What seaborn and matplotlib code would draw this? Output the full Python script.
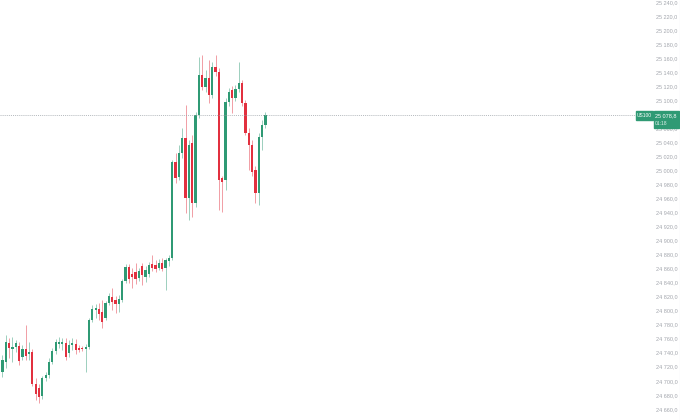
import numpy as np
import pandas as pd
import seaborn as sns
import matplotlib.pyplot as plt
from matplotlib.patches import Rectangle
from matplotlib.ticker import FixedLocator, FuncFormatter

# --------------------------------------------------------------------------------------------
# Candle data (US100)
# --------------------------------------------------------------------------------------------
open_ = [24712.6, 24726.8, 24753.9, 24745.3, 24748.2, 24749.6, 24733.9, 24745.3, 24738.2, 24741.1,
         24695.5, 24689.8, 24678.4, 24704.0, 24708.3, 24726.8, 24742.5, 24752.5, 24752.5, 24753.9,
         24739.6, 24751.0, 24752.5, 24746.8, 24746.8, 24745.3, 24748.2, 24786.7, 24801.0, 24802.4,
         24798.1, 24789.6, 24811.0, 24819.5, 24815.2, 24809.5, 24815.2, 24842.3, 24862.2, 24852.3,
         24855.1, 24846.6, 24863.7, 24848.0, 24852.3, 24866.5, 24865.1, 24860.8, 24867.9, 24860.8,
         24870.8, 24875.0, 25011.9, 24990.5, 25024.7, 25046.1, 24960.6, 25039.0, 24953.4, 25078.9,
         25136.0, 25118.8, 25131.7, 25107.4, 25147.3, 25140.2, 24989.1, 24986.3, 25097.4, 25114.5,
         25103.1, 25116.0, 25124.5, 25096.0, 25053.3, 25036.1, 25000.5, 24967.7, 25047.6, 25064.7]
high = [24736.8, 24765.3, 24761.0, 24762.5, 24758.2, 24755.3, 24751.0, 24779.6, 24755.3, 24745.3,
        24704.0, 24695.5, 24706.9, 24712.6, 24732.5, 24746.8, 24759.6, 24762.5, 24761.0, 24761.0,
        24758.2, 24761.0, 24759.6, 24751.0, 24749.6, 24752.5, 24789.6, 24808.1, 24809.5, 24811.0,
        24815.2, 24813.8, 24825.2, 24832.3, 24820.9, 24822.3, 24845.1, 24866.5, 24866.5, 24860.8,
        24867.9, 24860.8, 24867.9, 24863.7, 24869.4, 24879.3, 24872.2, 24873.6, 24875.0, 24875.0,
        24879.3, 25014.8, 25024.7, 25036.1, 25060.4, 25093.1, 25043.3, 25050.4, 25083.2, 25161.6,
        25164.4, 25143.1, 25157.3, 25154.5, 25164.4, 25145.9, 24991.9, 25103.1, 25117.4, 25120.3,
        25121.7, 25154.5, 25128.8, 25100.3, 25060.4, 25043.3, 25006.2, 25053.3, 25071.8, 25083.2]
low = [24705.5, 24718.3, 24732.5, 24726.8, 24741.1, 24722.5, 24729.7, 24729.7, 24729.7, 24692.6,
       24672.7, 24668.4, 24674.1, 24699.8, 24704.0, 24723.9, 24738.2, 24746.8, 24743.9, 24729.7,
       24733.9, 24743.9, 24738.2, 24741.1, 24742.5, 24712.6, 24745.3, 24783.9, 24789.6, 24786.7,
       24775.3, 24786.7, 24808.1, 24801.0, 24796.7, 24798.1, 24812.4, 24839.4, 24839.4, 24832.3,
       24838.0, 24842.3, 24836.6, 24840.8, 24848.0, 24856.5, 24855.1, 24858.0, 24856.5, 24829.5,
       24863.7, 24872.2, 24982.0, 24986.3, 25017.6, 24939.2, 24929.2, 24933.5, 24947.7, 25074.6,
       25114.5, 25111.7, 25096.0, 25103.1, 25134.5, 24943.5, 24940.7, 24972.0, 25091.7, 25081.8,
       25098.9, 25111.7, 25091.7, 25050.4, 25000.5, 24991.9, 24953.4, 24950.6, 25029.0, 25060.4]
close = [24729.7, 24755.3, 24746.8, 24748.2, 24753.9, 24728.2, 24745.3, 24735.4, 24741.1, 24695.5,
         24681.2, 24676.9, 24704.0, 24708.3, 24726.8, 24742.5, 24755.3, 24755.3, 24755.3, 24733.9,
         24751.0, 24753.9, 24743.9, 24743.9, 24745.3, 24748.2, 24786.7, 24802.4, 24803.8, 24795.3,
         24783.9, 24811.0, 24820.9, 24812.4, 24809.5, 24816.7, 24842.3, 24862.2, 24845.1, 24848.0,
         24845.1, 24856.5, 24850.8, 24858.0, 24865.1, 24860.8, 24859.4, 24867.9, 24859.4, 24872.2,
         24875.0, 25011.9, 24989.1, 25024.7, 25046.1, 24960.6, 25036.1, 24953.4, 25078.9, 25136.0,
         25118.8, 25131.7, 25107.4, 25147.3, 25140.2, 24986.3, 24983.4, 25097.4, 25111.7, 25103.1,
         25116.0, 25124.5, 25096.0, 25053.3, 25036.1, 24997.6, 24967.7, 25047.6, 25064.7, 25078.8]

symbol = 'US100'
last_price_label = '25 078,8'
countdown = '01:18'
price_ticks = list(range(24640, 25241, 20))

df = pd.DataFrame({'open': open_, 'high': high, 'low': low, 'close': close})
df['idx'] = np.arange(len(df))
df['up'] = df['close'] >= df['open']

GREEN = '#2f9a74'
RED = '#e2303f'

# --------------------------------------------------------------------------------------------
# Plot
# --------------------------------------------------------------------------------------------
sns.set_theme(style='white')
plt.rcParams['font.family'] = ['Liberation Sans', 'DejaVu Sans']

fig = plt.figure(figsize=(6.8, 4.2), dpi=100)
ax = fig.add_axes([0, 0, 653 / 680, 1])

colors = np.where(df['up'], GREEN, RED)
ax.vlines(df['idx'], df['low'], df['high'], colors=colors, linewidth=0.6, alpha=0.55)
body_bottom = df[['open', 'close']].min(axis=1)
body_height = (df['close'] - df['open']).abs().clip(lower=0.8)
ax.bar(df['idx'], body_height, bottom=body_bottom, width=0.68, color=colors, linewidth=0)

ax.set_xlim(-0.72, (653 - 2.4) / 3.33)
ax.set_ylim(24644.1, 25242.85)

last = df['close'].iloc[-1]
ax.axhline(last, xmin=0, xmax=636 / 653, color='#9aa0a6', linestyle=(0, (1.5, 1.5)), linewidth=0.5)

ax.yaxis.tick_right()
ax.yaxis.set_major_locator(FixedLocator(price_ticks))
ax.yaxis.set_major_formatter(FuncFormatter(lambda v, p: f"{v:,.1f}".replace(',', ' ').replace('.', ',')))
ax.tick_params(axis='y', length=0, pad=2.2, labelsize=4.0, labelcolor='#a3a6ad')
ax.set_xticks([])
for s in ax.spines.values():
    s.set_visible(False)

# Price scale boxes
fig.patches.append(Rectangle((636 / 680, 1 - 119.5 / 420), 17 / 680, 8 / 420,
                             transform=fig.transFigure, color=GREEN, zorder=5))
fig.patches.append(Rectangle((654 / 680, 1 - 127.5 / 420), 24.5 / 680, 16.5 / 420,
                             transform=fig.transFigure, color=GREEN, zorder=5))
fig.text(644.5 / 680, 1 - 115.5 / 420, symbol, color='white', fontsize=3.5, ha='center', va='center', zorder=6)
fig.text(666.2 / 680, 1 - 115.3 / 420, last_price_label, color='white', fontsize=4.0, ha='center', va='center', zorder=6)
fig.text(661 / 680, 1 - 123.3 / 420, countdown, color='#dff0ea', fontsize=3.6, ha='center', va='center', zorder=6)

# right border line of the price scale
fig.add_artist(plt.Line2D([679.5 / 680, 679.5 / 680], [0, 1], transform=fig.transFigure, color='#d5d7db', linewidth=0.8))

fig.savefig('out.png', dpi=100)
